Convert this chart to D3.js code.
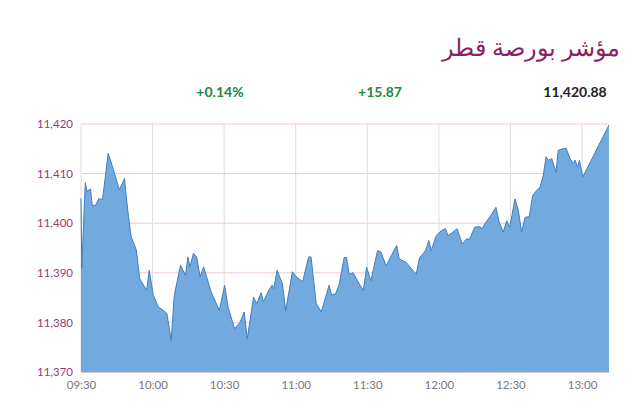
<!DOCTYPE html>
<html><head><meta charset="utf-8">
<script src="https://cdn.jsdelivr.net/npm/d3@7"></script>
<style>body{margin:0;background:#fff}svg{display:block}</style></head>
<body><svg id="c" width="640" height="419"></svg>
<script>
const minutes=[0,0.3,1.8,2.6,3.3,4,4.7,6.1,7.5,9,11.4,13.2,16.1,18.2,19.6,21,23.2,24.6,27.5,28.6,30.3,32.4,34.6,36,37.8,39.1,41.7,43.8,44.8,45.7,47.1,48.5,49.9,51.4,54.5,58,60.2,61.6,64.4,66.6,68.4,69.7,72.3,73.7,75.5,76.5,78.7,80.1,80.8,82.2,84.4,85.8,88.6,90,92.9,95.4,96.4,98.6,100.7,104,105,106.8,108.2,110.3,111.3,112.4,114.1,115.9,118.3,119.7,121.5,124.3,125.7,127.9,130,132.3,133.4,136.3,140.5,141.9,143.3,144.4,145.8,146.8,148.9,151,152.8,153.8,155.9,157.6,159.8,161.5,162.9,165,167.1,168.2,169.2,171.3,173.9,175.3,177,178.4,179.7,181.9,183.3,184.7,186.1,187.9,189.3,191,192.4,193.8,194.9,195.9,197.3,199.1,200,201.9,203.3,205,206.4,207.1,208.1,208.9,210.3,221.3];
const values=[11405,11390.9,11408.2,11406.3,11406.7,11406.9,11403.6,11403.6,11405,11404.7,11414.1,11411.4,11406.7,11409,11402.6,11397.3,11394.6,11388.8,11386.5,11390.5,11385.5,11383.1,11382.4,11381.8,11376.4,11385.5,11391.5,11389.5,11393.2,11391.2,11393.9,11393.2,11389.2,11391.2,11386.2,11382.4,11387.5,11383.1,11378.7,11380,11382.1,11376.7,11385.1,11383.8,11386,11384.2,11386.5,11387.5,11386.8,11390.5,11387.8,11382.4,11390.2,11389.3,11388.2,11393.2,11393.2,11383.8,11382.1,11387.5,11385.5,11385.8,11387.7,11393.1,11393.1,11389.7,11390,11388.4,11386.4,11391.1,11388.4,11394.5,11394.2,11391.4,11393.4,11395.5,11392.8,11392.1,11389.7,11393.1,11393.8,11394.5,11396.5,11394.5,11397.5,11398.5,11398.9,11397.5,11398.2,11398.9,11395.8,11396.8,11396.8,11399.2,11399.3,11398.9,11399.9,11401.2,11403.2,11400.2,11398.2,11400.5,11399.2,11404.9,11402.6,11398.2,11401.2,11401.3,11405.6,11406.6,11407.3,11409.7,11413.4,11412.7,11413,11410.3,11414.7,11415,11415.1,11413,11412,11412.7,11411.3,11412.7,11409.3,11419.8];
const yTicks=[11370,11380,11390,11400,11410,11420];
const xTickMin=[0,30,60,90,120,150,180,210];
const xTickLabels=["09:30","10:00","10:30","11:00","11:30","12:00","12:30","13:00"];
const stats=["+0.14%","+15.87","11,420.88"];
const title="مؤشر بورصة قطر";

const svg=d3.select("#c");
const L=81,R=609,T=124,B=372;
const x=d3.scaleLinear().domain([0,221.3]).range([L,R]);
const y=d3.scaleLinear().domain([11370,11420]).range([B,T]);
const data=minutes.map((m,i)=>({m,v:values[i]}));

svg.append("text").attr("x",620).attr("y",56).attr("text-anchor","end").attr("font-family","'Noto Sans',sans-serif").attr("font-size",24).attr("fill","#8c1f5f").text(title);
const sx=[220,380,575],sc=["#1a8a3a","#1a8a3a","#222"];
stats.forEach((s,i)=>svg.append("text").attr("x",sx[i]).attr("y",97).attr("text-anchor","middle").attr("font-family","Lato,sans-serif").attr("font-weight","bold").attr("font-size",14).attr("fill",sc[i]).text(s));

const g=svg.append("g");
g.selectAll(".h").data(yTicks).join("line").attr("x1",L).attr("x2",R).attr("y1",d=>y(d)).attr("y2",d=>y(d)).attr("stroke","#efc9d6").attr("stroke-width",1);
g.selectAll(".v").data(xTickMin).join("line").attr("x1",d=>x(d)).attr("x2",d=>x(d)).attr("y1",T).attr("y2",B).attr("stroke","#ddd").attr("stroke-width",1);

const area=d3.area().x(d=>x(d.m)).y0(B).y1(d=>y(d.v));
const line=d3.line().x(d=>x(d.m)).y(d=>y(d.v));
svg.append("path").datum(data).attr("d",area).attr("fill","#72a9de");
svg.append("path").datum(data).attr("d",line).attr("fill","none").attr("stroke","#3f7fbf").attr("stroke-width",1);

const ya=svg.append("g").attr("transform",`translate(${L},0)`).call(d3.axisLeft(y).tickValues(yTicks).tickFormat(d3.format(",")).tickSize(0).tickPadding(8));
ya.select(".domain").remove();
ya.selectAll("text").attr("fill","#9b3a6e").attr("font-family","Lato,sans-serif").attr("font-size",11.5);
const xa=svg.append("g").attr("transform",`translate(0,${B})`).call(d3.axisBottom(x).tickValues(xTickMin).tickFormat((d,i)=>xTickLabels[i]).tickSize(0).tickPadding(9));
xa.select(".domain").attr("stroke","#ccc");
xa.selectAll("text").attr("fill","#777").attr("font-family","Lato,sans-serif").attr("font-size",11.5);
</script></body></html>
